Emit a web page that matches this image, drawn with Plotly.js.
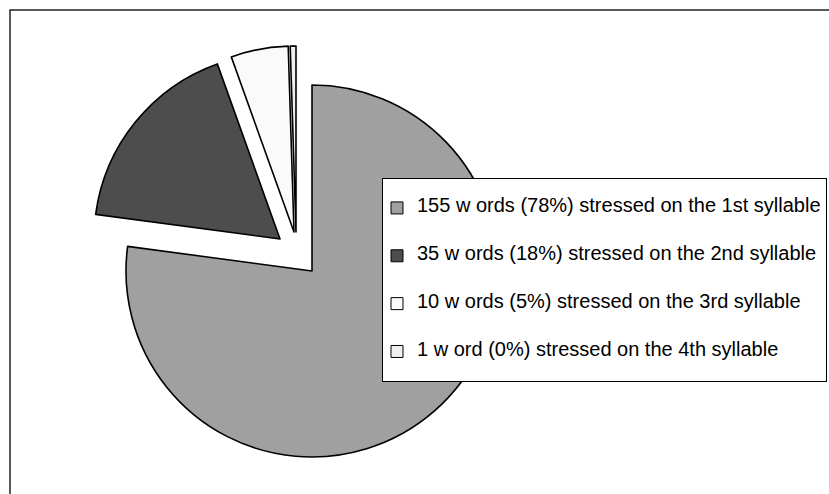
<!DOCTYPE html>
<html><head><meta charset="utf-8">
<script src="https://cdn.plot.ly/plotly-3.0.1.min.js"></script>
<style>html,body{margin:0;padding:0;background:#fff;overflow:hidden}</style>
</head><body><div id="chart" style="width:829px;height:494px"></div>
<script>
// ---- data ----
const labels = [
  '155 w ords (78%) stressed on the 1st syllable',
  '35 w ords (18%) stressed on the 2nd syllable',
  '10 w ords (5%) stressed on the 3rd syllable',
  '1 w ord (0%) stressed on the 4th syllable'
];
const values = [155, 35, 10, 1];
const colors = ['#a0a0a0', '#4d4d4d', '#fafafa', '#efefef'];

// ---- layout constants (pixels) ----
const W = 829, H = 494;
const centre = [312, 271], R = 186;
const explode = [[0, 0], [-32, -32], [-18, -39], [-16, -39]];

function dom(cx, cy, r) {
  return {x: [(cx - r) / W, (cx + r) / W], y: [(H - cy - r) / H, (H - cy + r) / H]};
}
// blank lines around each label give the tall, evenly spaced legend rows
const legendText = labels.map(l => ' <br><span style="font-size:20px">' + l + '</span><br> ');

const traces = [];
// legend carrier (tiny pie tucked behind the opaque legend box)
traces.push({
  type: 'pie', labels: legendText, values: values, sort: false,
  direction: 'clockwise', rotation: 0,
  marker: {colors: colors, line: {color: '#000', width: 1}},
  textinfo: 'none', hoverinfo: 'skip', showlegend: true,
  domain: dom(620, 300, 3)
});
// each slice drawn in its exploded position
values.forEach((v, i) => {
  traces.push({
    type: 'pie', labels: legendText, values: values, sort: false,
    direction: 'clockwise', rotation: 0,
    marker: {
      colors: colors.map((c, j) => j === i ? c : 'rgba(0,0,0,0)'),
      line: {color: '#000', width: colors.map((c, j) => j === i ? 1.6 : 0)}
    },
    textinfo: 'none', hoverinfo: 'skip', showlegend: false,
    domain: dom(centre[0] + explode[i][0], centre[1] + explode[i][1], R)
  });
});

const layout = {
  width: W, height: H,
  margin: {l: 0, r: 0, t: 0, b: 0, pad: 0},
  paper_bgcolor: '#fff', plot_bgcolor: '#fff',
  font: {family: 'Liberation Sans, Arial, sans-serif', color: '#000'},
  showlegend: true,
  legend: {
    x: 382 / W, y: (H - 178) / H, xanchor: 'left', yanchor: 'top',
    bgcolor: '#fff', bordercolor: '#000', borderwidth: 1, indentation: -6,
    font: {family: 'Liberation Sans, Arial, sans-serif', size: 11.5, color: '#000'},
    valign: 'middle', itemclick: false, itemdoubleclick: false
  },
  shapes: [{
    type: 'rect', xref: 'paper', yref: 'paper', layer: 'below',
    x0: 10 / W, x1: 1.05, y0: -0.05, y1: (H - 10) / H,
    line: {color: '#222', width: 1.5}, fillcolor: 'rgba(0,0,0,0)'
  }]
};

Plotly.newPlot('chart', traces, layout, {displayModeBar: false, staticPlot: true});
</script>
</body></html>
